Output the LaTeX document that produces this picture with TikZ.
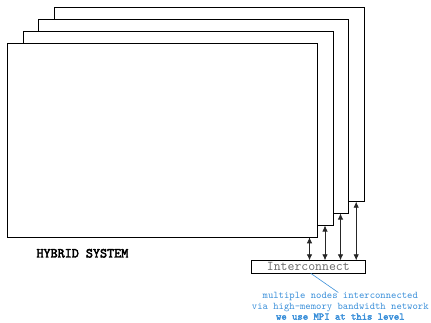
\documentclass[tikz,border=0pt]{standalone}
\usepackage{fontspec}
\newfontfamily\boldtt{Latin Modern Mono}[FakeBold=3]
\usetikzlibrary{arrows.meta,calc}
\definecolor{noteblue}{RGB}{58,143,217}
\begin{document}
\begin{tikzpicture}[x=1pt,y=-1pt,
  board/.style={draw=black,fill=white,line width=0.9pt,minimum width=310pt,minimum height=194pt,inner sep=0pt,outer sep=0pt},
  link/.style={line width=0.8pt,draw=black!85,{Latex[length=6pt,width=5.5pt]}-{Latex[length=6pt,width=5.5pt]}},
  icbox/.style={draw=black,line width=0.8pt,minimum width=114.7pt,minimum height=13pt,inner sep=0pt,outer sep=0pt,font=\ttfamily\fontsize{13.4}{13.4}\selectfont,text=black!60}]
\useasboundingbox (0,0) rectangle (431,322);
\node[board] (r4) at (209.2,104.7) {};
\node[board] (r3) at (193.5,116.5) {};
\node[board] (r2) at (178.0,128.5) {};
\node[board] (r1) at (162.5,140.3) {};
\node[anchor=west,font=\boldtt\fontsize{13.7}{13.7}\selectfont] (hs) at (33,253.3) {HYBRID SYSTEM};
\node[icbox] (ic) at (308.3,266.8) {Interconnect};
\foreach \r in {r1,r2,r3,r4}{
  \coordinate (\r a) at ($(\r.south east)+(-8,0)$);
  \draw[link] (\r a) -- (\r a |- ic.north);
}
\node[anchor=north,align=center,text=noteblue,font=\ttfamily\fontsize{10.2}{10.4}\selectfont,inner sep=0pt] (note) at (340.3,292.5)
  {multiple nodes interconnected\\via high-memory bandwidth network\\{\boldtt we use MPI at this level}};
\draw[noteblue,line width=0.6pt] ([xshift=-2pt]note.north) -- ([xshift=2.4pt]ic.south);
\end{tikzpicture}
\end{document}
